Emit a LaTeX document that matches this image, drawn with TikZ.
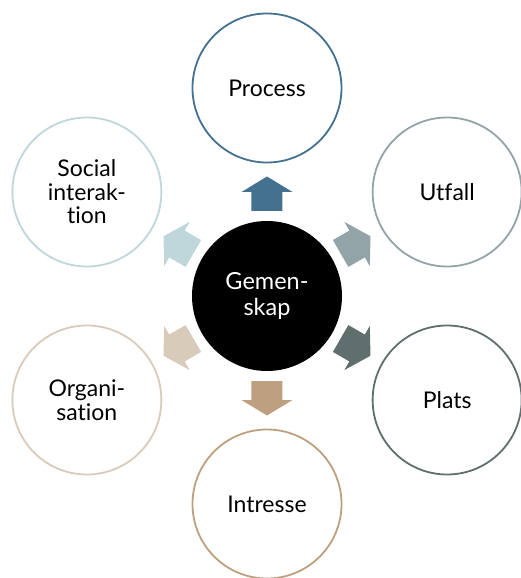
\documentclass[tikz,border=0pt]{standalone}
\usepackage{fontspec}
\setmainfont{Lato}[Ligatures=NoCommon]
\definecolor{cP}{HTML}{44718F}
\definecolor{cU}{HTML}{92A4A8}
\definecolor{cPl}{HTML}{5F6F6E}
\definecolor{cI}{HTML}{BDA07F}
\definecolor{cO}{HTML}{D8CBB9}
\definecolor{cS}{HTML}{BFD6DB}
\tikzset{
  outer/.style={circle, draw=#1, line width=1.8pt, fill=white, minimum size=149pt, inner sep=0pt, align=center, font=\fontsize{23}{23.5}\selectfont, text=black},
  hub/.style={circle, fill=black, minimum size=150pt, inner sep=0pt, align=center, font=\fontsize{23.5}{26}\selectfont, text=white},
  blockarrow/.style={fill=#1}
}
\begin{document}
\begin{tikzpicture}[x=1pt,y=1pt]
\useasboundingbox (-267,-282) rectangle (254,296);
\node[hub] (center) at (0,0) {Gemen-\\skap};
\node[outer=cP] (process) at (90:208) {Process};
\node[outer=cU] (utfall) at (30:208) {Utfall};
\node[outer=cPl] (plats) at (-30:208) {Plats};
\node[outer=cI] (intresse) at (-90:208) {Intresse};
\node[outer=cO] (org) at (-150:208) {Organi-\\sation};
\node[outer=cS] (social) at (150:208) {Social\\interak-\\tion};
\foreach \a/\c in {90/cP,30/cU,-30/cPl,-90/cI,-150/cO,150/cS}{
  \fill[blockarrow=\c, rotate=\a] (85,-15.5) -- (104,-15.5) -- (104,-25.5) -- (119.5,0) -- (104,25.5) -- (104,15.5) -- (85,15.5) -- cycle;
}
\end{tikzpicture}
\end{document}
